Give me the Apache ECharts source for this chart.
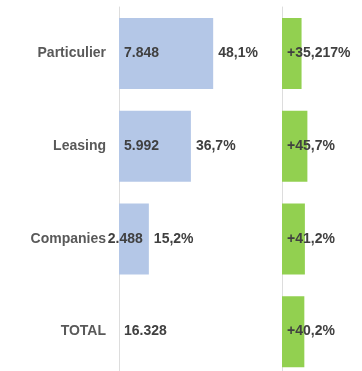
<!DOCTYPE html>
<html>
<head>
<meta charset="utf-8">
<script src="https://cdn.jsdelivr.net/npm/echarts@6/dist/echarts.min.js"></script>
<style>
html,body{margin:0;padding:0;background:#fff;}
#c{width:362px;height:371px;}
</style>
</head>
<body>
<div id="c"></div>
<script>
const categories = ['Particulier', 'Leasing', 'Companies', 'TOTAL'];
const volumes = [7848, 5992, 2488, 16328];
const volumeLabels = ['7.848', '5.992', '2.488', '16.328'];
const shares = [48.1, 36.7, 15.2, null];
const shareLabels = ['48,1%', '36,7%', '15,2%', ''];
const growth = [35.217, 45.7, 41.2, 40.2];
const growthLabels = ['+35,217%', '+45,7%', '+41,2%', '+40,2%'];

const FONT = 'Liberation Sans, Arial, sans-serif';
const labelBase = {fontFamily: FONT, fontWeight: 'bold', fontSize: 14, color: '#404040'};

const chart = echarts.init(document.getElementById('c'), null, {renderer: 'canvas'});

const volData = volumes.map((v, i) => {
  const item = {value: v};
  if (categories[i] === 'TOTAL') {
    item.itemStyle = {color: 'rgba(0,0,0,0)'};
  }
  if (categories[i] === 'Companies') {
    item.label = {position: 'insideRight', distance: 6};
  }
  return item;
});

const shareData = volumes.map((v, i) => (shares[i] == null ? null : v));

chart.setOption({
  animation: false,
  backgroundColor: '#fff',
  grid: [
    {left: 119, top: 7, width: 162, height: 371, outerBoundsMode: 'none', containLabel: false},
    {left: 282, top: 7, width: 50, height: 371, outerBoundsMode: 'none', containLabel: false}
  ],
  xAxis: [
    {gridIndex: 0, type: 'value', min: 0, max: 13500, show: false},
    {gridIndex: 1, type: 'value', min: 0, max: 90, show: false}
  ],
  yAxis: [
    {
      gridIndex: 0, type: 'category', data: categories, inverse: true,
      axisLine: {show: true, lineStyle: {color: '#DDDDDD', width: 1}},
      axisTick: {show: false},
      axisLabel: {margin: 13, fontFamily: FONT, fontWeight: 'bold', fontSize: 14, color: '#595959'},
      splitLine: {show: false}
    },
    {
      gridIndex: 1, type: 'category', data: categories, inverse: true,
      axisLine: {show: true, lineStyle: {color: '#DDDDDD', width: 1}},
      axisTick: {show: false},
      axisLabel: {show: false},
      splitLine: {show: false}
    }
  ],
  series: [
    {
      type: 'bar', name: 'Volume', xAxisIndex: 0, yAxisIndex: 0,
      data: volData, barWidth: 71, barGap: '-100%',
      itemStyle: {color: '#B4C7E7'},
      label: Object.assign({show: true, position: 'insideLeft', distance: 5,
        formatter: p => volumeLabels[p.dataIndex]}, labelBase),
      silent: true
    },
    {
      type: 'bar', name: 'Share', xAxisIndex: 0, yAxisIndex: 0,
      data: shareData, barWidth: 71, barGap: '-100%',
      itemStyle: {color: 'rgba(0,0,0,0)'},
      label: Object.assign({show: true, position: 'right', distance: 5,
        formatter: p => shareLabels[p.dataIndex]}, labelBase),
      silent: true
    },
    {
      type: 'bar', name: 'Growth', xAxisIndex: 1, yAxisIndex: 1,
      data: growth, barWidth: 71,
      itemStyle: {color: '#92D050'},
      label: Object.assign({show: true, position: 'insideLeft', distance: 5,
        formatter: p => growthLabels[p.dataIndex]}, labelBase),
      silent: true
    }
  ]
});
</script>
</body>
</html>
